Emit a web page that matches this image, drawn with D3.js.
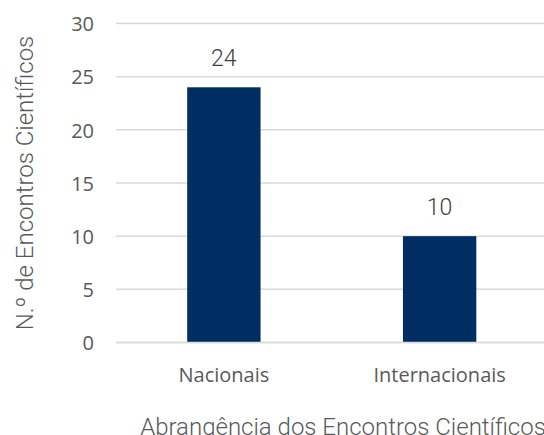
<!DOCTYPE html>
<html>
<head>
<meta charset="utf-8">
<script src="https://cdn.jsdelivr.net/npm/d3@7"></script>
<style>
  html, body { margin: 0; padding: 0; background: #fff; }
  svg { display: block; }
</style>
</head>
<body>
<div class="chart"></div>
<script>
// dados do grafico
var categorias = ["Nacionais", "Internacionais"];
var valores = [24, 10];
var ticks_y = [0, 5, 10, 15, 20, 25, 30];
var titulo_x = "Abrangência dos Encontros Científicos";
var titulo_y = "N.º de Encontros Científicos";

var width = 544, height = 435;
var x_min = 116, x_max = 547.5;
var y_min = 23.5, y_max = 342.5;

var svg = d3.select(".chart").append("svg")
  .attr("width", width).attr("height", height);

var xScale = d3.scaleBand()
  .domain(categorias)
  .range([x_min, x_max])
  .paddingInner(0.66)
  .paddingOuter(0.33);

var yScale = d3.scaleLinear()
  .domain([0, 30])
  .range([y_max, y_min]);

// linhas de grade
svg.append("g")
  .selectAll("line")
  .data(ticks_y)
  .enter()
  .append("line")
  .attr("x1", x_min).attr("x2", x_max)
  .attr("y1", function(d) { return yScale(d); })
  .attr("y2", function(d) { return yScale(d); })
  .attr("stroke", "#d9d9d9")
  .attr("stroke-width", 1.5);

// eixo y
var yAxis = d3.axisLeft(yScale).tickValues(ticks_y).tickSize(0).tickPadding(0);
var gy = svg.append("g")
  .attr("transform", "translate(94,0)")
  .call(yAxis);
gy.select(".domain").remove();
gy.selectAll("text")
  .attr("font-family", "Open Sans")
  .attr("font-size", "20px")
  .attr("fill", "#595959")
  .attr("dy", "0.36em");

// barras
svg.append("g")
  .selectAll("rect")
  .data(valores)
  .enter()
  .append("rect")
  .attr("x", function(d, i) { return xScale(categorias[i]); })
  .attr("y", function(d) { return yScale(d); })
  .attr("width", xScale.bandwidth())
  .attr("height", function(d) { return yScale(0) - yScale(d); })
  .attr("fill", "#002d62");

// linha do zero por cima
svg.append("line")
  .attr("x1", x_min).attr("x2", x_max)
  .attr("y1", yScale(0)).attr("y2", yScale(0))
  .attr("stroke", "#d9d9d9")
  .attr("stroke-width", 1.5);

// rotulos de dados
svg.append("g")
  .selectAll("text")
  .data(valores)
  .enter()
  .append("text")
  .attr("x", function(d, i) { return xScale(categorias[i]) + xScale.bandwidth() / 2; })
  .attr("y", function(d) { return yScale(d) - 21; })
  .attr("text-anchor", "middle")
  .attr("font-family", "Roboto")
  .attr("font-weight", 300)
  .attr("font-size", "23px")
  .attr("fill", "#404040")
  .text(function(d) { return d; });

// eixo x
var xAxis = d3.axisBottom(xScale).tickSize(0).tickPadding(0);
var gx = svg.append("g")
  .attr("transform", "translate(0,382)")
  .call(xAxis);
gx.select(".domain").remove();
gx.selectAll("text")
  .attr("font-family", "Open Sans")
  .attr("font-size", "20px")
  .attr("fill", "#595959")
  .attr("dy", "0");

// titulos
svg.append("text")
  .attr("x", 343)
  .attr("y", 435)
  .attr("text-anchor", "middle")
  .attr("font-family", "Roboto")
  .attr("font-weight", 300)
  .attr("font-size", "24px")
  .attr("fill", "#595959")
  .text(titulo_x);

svg.append("text")
  .attr("transform", "translate(33,183) rotate(-90)")
  .attr("text-anchor", "middle")
  .attr("font-family", "Roboto")
  .attr("font-weight", 300)
  .attr("font-size", "24px")
  .attr("fill", "#595959")
  .text(titulo_y);
</script>
</body>
</html>
